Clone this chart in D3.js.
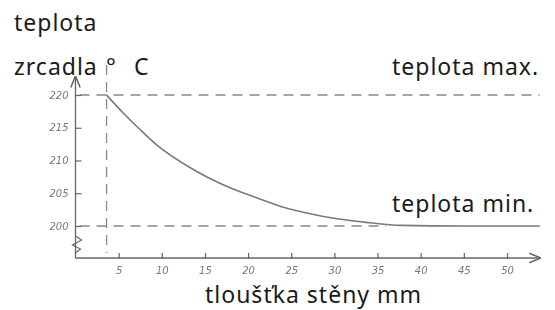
<!DOCTYPE html>
<html>
<head>
<meta charset="utf-8">
<script src="https://cdn.jsdelivr.net/npm/d3@7"></script>
<style>
  body { margin: 0; background: #fff; }
  svg { display: block; }
  .lbl { font-family: "Noto Sans", sans-serif; font-size: 23px; letter-spacing: 1px; fill: #1a1a1a; }
  .tick text { font-family: "DejaVu Sans", sans-serif; font-style: italic; font-size: 10px; fill: #777; }
  .tick line { stroke: #666; stroke-width: 1.2; }
</style>
</head>
<body>
<script>
// hand sketch: mirror temperature vs wall thickness
const xTicks = [5, 10, 15, 20, 25, 30, 35, 40, 45, 50];
const yTicks = [200, 205, 210, 215, 220];
const tMax = 220, tMin = 200;
const xStart = 3.6; // dashed vertical (start of curve)

// curve
const thickness = [3.6, 5.5, 7.5, 9.4, 13.3, 17.1, 21.0, 24.5, 26.4, 30.3, 34.1, 37.6, 45, 53.8];
const temp      = [220, 217.3, 214.7, 212.4, 208.9, 206.3, 204.3, 202.7, 202.1, 201.1, 200.5, 200.1, 200, 200];

const width = 555, height = 310;

const svg = d3.select("body").append("svg")
    .attr("width", width)
    .attr("height", height);

const x = d3.scaleLinear().domain([0, 50]).range([75.5, 507]);
const y = d3.scaleLinear().domain([200, 220]).range([226, 95]);

// pencil look
const defs = svg.append("defs");
defs.append("filter").attr("id", "pencil")
    .append("feGaussianBlur").attr("stdDeviation", 0.45);
defs.append("marker")
    .attr("id", "arrow")
    .attr("viewBox", "0 0 10 10")
    .attr("refX", 9).attr("refY", 5)
    .attr("markerWidth", 9).attr("markerHeight", 9)
    .attr("orient", "auto")
    .append("path")
    .attr("d", "M0,1 L10,5 L0,9")
    .attr("fill", "none")
    .attr("stroke", "#666")
    .attr("stroke-width", 1.3);

const sketch = svg.append("g").attr("filter", "url(#pencil)");

// guide lines
const dash = "10,7";
sketch.append("line")
    .attr("x1", x(0) + 4).attr("x2", x(53.8))
    .attr("y1", y(tMax)).attr("y2", y(tMax))
    .attr("stroke", "#888").attr("stroke-width", 1.3)
    .attr("stroke-dasharray", dash);
sketch.append("line")
    .attr("x1", x(0) + 4).attr("x2", x(36))
    .attr("y1", y(tMin)).attr("y2", y(tMin))
    .attr("stroke", "#888").attr("stroke-width", 1.3)
    .attr("stroke-dasharray", dash);
sketch.append("line")
    .attr("x1", x(xStart)).attr("x2", x(xStart))
    .attr("y1", y(tMax) - 30).attr("y2", y(tMin) + 27)
    .attr("stroke", "#888").attr("stroke-width", 1.3)
    .attr("stroke-dasharray", dash);

// axes lines with arrows
const x0 = 258;
sketch.append("line")
    .attr("x1", x(0)).attr("x2", x(53.8))
    .attr("y1", x0).attr("y2", x0)
    .attr("stroke", "#666").attr("stroke-width", 1.3)
    .attr("marker-end", "url(#arrow)");
sketch.append("line")
    .attr("x1", x(0)).attr("x2", x(0))
    .attr("y1", x0).attr("y2", y(tMax) - 18)
    .attr("stroke", "#666").attr("stroke-width", 1.3)
    .attr("marker-end", "url(#arrow)");

// zigzag break on the y axis
const bx = x(0);
sketch.append("path")
    .attr("d", `M${bx},236 L${bx + 6},240 L${bx - 3},245 L${bx + 5},249 L${bx},253`)
    .attr("fill", "none").attr("stroke", "#666").attr("stroke-width", 1.2);

// ticks via d3 axes
const yAxis = d3.axisLeft(y).tickValues(yTicks).tickSizeInner(-6).tickSizeOuter(0).tickPadding(7);
const gy = sketch.append("g").attr("transform", `translate(${x(0)},0)`).call(yAxis);
gy.select(".domain").remove();

const xAxis = d3.axisBottom(x).tickValues(xTicks).tickSizeInner(-6).tickSizeOuter(0).tickPadding(8);
const gx = sketch.append("g").attr("transform", `translate(0,${x0 + 1})`).call(xAxis);
gx.select(".domain").remove();

// the curve
const pts = thickness.map((d, i) => [d, temp[i]]);
sketch.append("path")
    .datum(pts)
    .attr("d", d3.line().x(d => x(d[0])).y(d => y(d[1])).curve(d3.curveMonotoneX))
    .attr("fill", "none")
    .attr("stroke", "#7a7a7a")
    .attr("stroke-width", 1.6);

// labels
svg.append("text").attr("class", "lbl").attr("x", 14).attr("y", 31).text("teplota");
const unit = svg.append("text").attr("class", "lbl").attr("x", 14).attr("y", 75);
unit.append("tspan").text("zrcadla");
unit.append("tspan").attr("x", 106).text("°");
unit.append("tspan").attr("x", 134).text("C");
svg.append("text").attr("class", "lbl").attr("x", 392).attr("y", 75).text("teplota max.");
svg.append("text").attr("class", "lbl").attr("x", 392).attr("y", 212).text("teplota min.");
svg.append("text").attr("class", "lbl").attr("x", 205).attr("y", 303).text("tloušťka stěny mm");
</script>
</body>
</html>
